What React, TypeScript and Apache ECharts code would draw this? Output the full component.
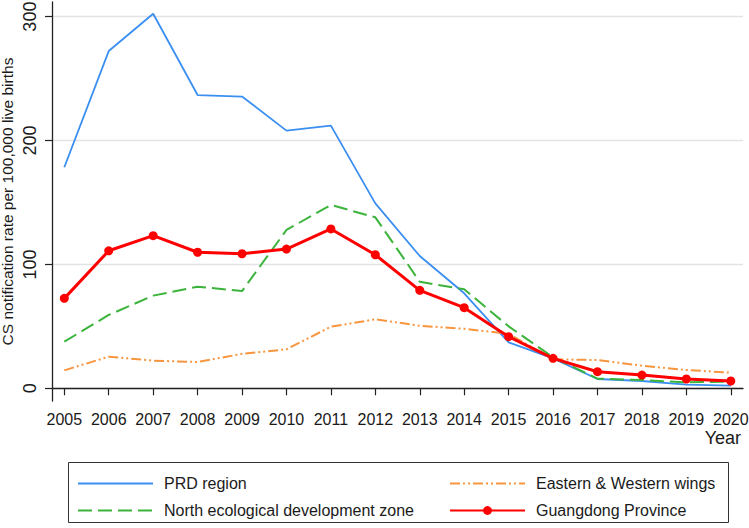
import React, { useEffect, useRef } from "react";
import * as echarts from "echarts";

const years = [2005, 2006, 2007, 2008, 2009, 2010, 2011, 2012, 2013, 2014, 2015, 2016, 2017, 2018, 2019, 2020];
const prdRegion = [178.4, 272.2, 302.3, 236.7, 235.5, 208, 212, 149.3, 106.8, 76.7, 37.1, 24.2, 7.5, 5.9, 2.9, 2.1];
const northZone = [37.6, 59.2, 74.8, 82, 78.5, 127.8, 148, 138, 86, 79.9, 50, 25, 7.8, 6.7, 4.8, 5.4];
const eastWestWings = [14.5, 25.5, 22.3, 21.2, 27.8, 31.5, 49.7, 55.7, 50.5, 48, 44, 23.4, 22.8, 18.3, 14.8, 12.6];
const guangdong = [72.6, 111, 123.2, 109.8, 108.6, 112.4, 128.6, 107.8, 79.1, 65.1, 41.7, 24.2, 13.4, 10.7, 7.5, 5.9];
const yTicks = [0, 100, 200, 300];

const FONT = '"Liberation Sans", Arial, Helvetica, sans-serif';
const TXT = "#1a1a1a";

const pairs = (vals: number[]) => years.map((y, i) => [y, vals[i]]);
const noSym = { opacity: 0, borderWidth: 0 };

export default function App() {
  const ref = useRef<HTMLDivElement>(null);
  useEffect(() => {
    document.body.style.margin = "0";
    if (!ref.current) return;
    const chart = echarts.init(ref.current, null, { renderer: "svg" });
    const legendBase = {
      orient: "vertical",
      top: 474,
      padding: 0,
      itemWidth: 75,
      itemHeight: 11,
      itemGap: 8,
      textStyle: { fontSize: 16, color: TXT, fontFamily: FONT, padding: [0, 0, 0, 6], lineHeight: 19 },
    };
    chart.setOption({
      animation: false,
      backgroundColor: "#fff",
      textStyle: { fontFamily: FONT },
      grid: { left: 52, right: 6, top: 2, bottom: 127, containLabel: false, outerBoundsMode: "none" },
      xAxis: {
        type: "value",
        min: 2004.723,
        max: 2020.275,
        axisLine: { show: true, lineStyle: { color: "#222", width: 1.3 } },
        axisTick: { show: true, length: 7, lineStyle: { color: "#222", width: 1.2 }, customValues: years },
        axisLabel: { fontSize: 16, color: TXT, margin: 10, customValues: years, formatter: (v: number) => String(v), fontFamily: FONT },
        splitLine: { show: false },
      },
      yAxis: {
        type: "value",
        min: -10.25,
        max: 311.8,
        name: "CS notification rate per 100,000 live births",
        nameLocation: "middle",
        nameGap: 37,
        nameMoveOverlap: false,
        nameTextStyle: { fontSize: 15.5, color: TXT, fontFamily: FONT },
        axisLine: { show: true, lineStyle: { color: "#222", width: 1.3 } },
        axisTick: { show: true, length: 7, lineStyle: { color: "#222", width: 1.2 }, customValues: yTicks },
        axisLabel: { fontSize: 18, color: TXT, margin: 13, rotate: 90, customValues: yTicks, fontFamily: FONT },
        splitLine: { show: true, lineStyle: { color: "#e3e3e3", width: 1.3 } },
      },
      legend: [
        {
          ...legendBase,
          left: 77,
          data: [
            { name: "PRD region", itemStyle: noSym },
            { name: "North ecological development zone", itemStyle: noSym },
          ],
        },
        {
          ...legendBase,
          left: 449,
          data: [
            { name: "Eastern & Western wings", itemStyle: noSym },
            { name: "Guangdong Province" },
          ],
        },
      ],
      graphic: [
        {
          type: "text",
          x: 741,
          y: 438,
          style: { text: "Year", fontSize: 18, fill: TXT, fontFamily: FONT, align: "right", verticalAlign: "middle" },
          silent: true,
        },
        {
          type: "rect",
          shape: { x: 68.5, y: 462.5, width: 660, height: 60 },
          style: { fill: "none", stroke: "#333", lineWidth: 1 },
          silent: true,
        },
      ],
      series: [
        {
          name: "PRD region",
          type: "line",
          data: pairs(prdRegion),
          symbol: "none",
          lineStyle: { color: "#3b8ff0", width: 1.8 },
          itemStyle: { color: "#3b8ff0" },
          z: 2,
        },
        {
          name: "North ecological development zone",
          type: "line",
          data: pairs(northZone),
          symbol: "none",
          lineStyle: { color: "#3cb43c", width: 2, type: [14, 6] },
          itemStyle: { color: "#3cb43c" },
          z: 3,
        },
        {
          name: "Eastern & Western wings",
          type: "line",
          data: pairs(eastWestWings),
          symbol: "none",
          lineStyle: { color: "#f7963f", width: 2, type: [10, 3, 2, 3, 2, 3] },
          itemStyle: { color: "#f7963f" },
          z: 2,
        },
        {
          name: "Guangdong Province",
          type: "line",
          data: pairs(guangdong),
          symbol: "circle",
          symbolSize: 9,
          showSymbol: true,
          lineStyle: { color: "#ff0000", width: 3 },
          itemStyle: { color: "#ff0000" },
          z: 4,
        },
      ],
    });
    return () => chart.dispose();
  }, []);
  return <div ref={ref} style={{ width: 749, height: 528 }} />;
}
